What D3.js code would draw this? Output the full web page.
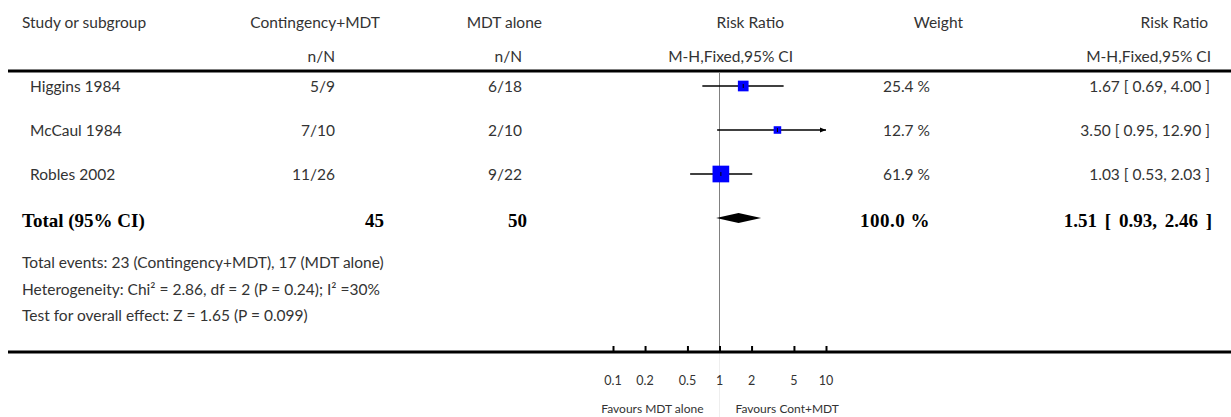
<!DOCTYPE html>
<html><head><meta charset="utf-8">
<script src="https://cdn.jsdelivr.net/npm/d3@7/dist/d3.min.js"></script>
<style>
body{margin:0;background:#fff;}
svg{display:block;}
.t{font-family:Lato,"Open Sans",sans-serif;font-size:15.5px;fill:#333;}
.b{font-family:"Liberation Serif","Times New Roman",serif;font-weight:bold;font-size:19px;fill:#000;}
</style></head>
<body>
<svg id="c" width="1231" height="417"></svg>
<script>
const studies = ["Higgins 1984", "McCaul 1984", "Robles 2002"];
const treatEvents = ["5/9", "7/10", "11/26"];
const ctrlEvents = ["6/18", "2/10", "9/22"];
const rr = [1.67, 3.50, 1.03];
const rrLow = [0.69, 0.95, 0.53];
const rrHigh = [4.00, 12.90, 2.03];
const weights = [25.4, 12.7, 61.9];
const totalLabel = "Total (95% CI)";
const totalN = ["45", "50"];
const totalWeight = 100.0;
const totalRR = [1.51, 0.93, 2.46];
const footnotes = [
  "Total events: 23 (Contingency+MDT), 17 (MDT alone)",
  "Heterogeneity: Chi\u00B2 = 2.86, df = 2 (P = 0.24); I\u00B2 =30%",
  "Test for overall effect: Z = 1.65 (P = 0.099)"
];
const tickValues = [0.1, 0.2, 0.5, 1, 2, 5, 10];
const tickLabels = ["0.1", "0.2", "0.5", "1", "2", "5", "10"];
const favours = ["Favours MDT alone", "Favours Cont+MDT"];

const svg = d3.select("#c");
const x = d3.scaleLog().domain([0.1, 10]).range([613, 826]);
const y = d3.scalePoint().domain(studies).range([86, 174]);
const f2 = d3.format(".2f");
const ciText = (m, l, h) => `${f2(m)} [ ${f2(l)}, ${f2(h)} ]`;

function txt(xp, yp, s, anchor, cls) {
  return svg.append("text").attr("class", cls || "t").attr("x", xp).attr("y", yp)
    .attr("text-anchor", anchor || "start").attr("dominant-baseline", "central").text(s);
}

// headers
txt(22, 22, "Study or subgroup");
txt(380, 22, "Contingency+MDT", "end");
txt(335, 56, "n/N", "end");
txt(542, 22, "MDT alone", "end");
txt(522, 56, "n/N", "end");
txt(784, 22, "Risk Ratio", "end");
txt(793, 56, "M-H,Fixed,95% CI", "end");
txt(963, 22, "Weight", "end");
txt(1208, 22, "Risk Ratio", "end");
txt(1211, 56, "M-H,Fixed,95% CI", "end");

// header rule
svg.append("line").attr("x1", 8).attr("x2", 1231).attr("y1", 71).attr("y2", 71)
  .attr("stroke", "#000").attr("stroke-width", 3);

// reference line at 1
svg.append("line").attr("x1", x(1)).attr("x2", x(1)).attr("y1", 72).attr("y2", 352)
  .attr("stroke", "#808080").attr("stroke-width", 1);
svg.append("line").attr("x1", x(1)).attr("x2", x(1)).attr("y1", 352).attr("y2", 417)
  .attr("stroke", "#eeeeee").attr("stroke-width", 1);

// study rows
studies.forEach((s, i) => {
  const yy = y(s);
  txt(30, yy, s);
  txt(335, yy, treatEvents[i], "end");
  txt(522, yy, ctrlEvents[i], "end");
  txt(930, yy, weights[i].toFixed(1) + " %", "end");
  txt(1210, yy, ciText(rr[i], rrLow[i], rrHigh[i]), "end");
  const lo = Math.max(rrLow[i], 0.1), hi = Math.min(rrHigh[i], 10);
  svg.append("line").attr("x1", x(lo)).attr("x2", x(hi)).attr("y1", yy).attr("y2", yy)
    .attr("stroke", "#000").attr("stroke-width", 1.3);
  if (rrHigh[i] > 10) {
    const xe = x(10);
    svg.append("path").attr("d", `M${xe - 6},${yy - 2.5}L${xe},${yy}L${xe - 6},${yy + 2.5}Z`).attr("fill", "#000");
  }
  const side = 2.12 * Math.sqrt(weights[i]);
  svg.append("rect").attr("x", x(rr[i]) - side / 2).attr("y", yy - side / 2)
    .attr("width", side).attr("height", side).attr("fill", "#0000ff");
  svg.append("line").attr("x1", x(rr[i])).attr("x2", x(rr[i])).attr("y1", yy - 2).attr("y2", yy + 2)
    .attr("stroke", "#000").attr("stroke-width", 1);
});

// total row
const ty = 220;
txt(22, ty, totalLabel, "start", "b");
txt(384, ty, totalN[0], "end", "b");
txt(527, ty, totalN[1], "end", "b");
txt(930, ty, totalWeight.toFixed(1) + " %", "end", "b").style("letter-spacing", "0.5px");
txt(1212, ty, ciText(totalRR[0], totalRR[1], totalRR[2]), "end", "b").style("word-spacing", "3px");
svg.append("path")
  .attr("d", `M${x(totalRR[1])},${ty - 2}L${x(totalRR[0])},${ty - 7}L${x(totalRR[2])},${ty - 2}L${x(totalRR[0])},${ty + 3}Z`)
  .attr("fill", "#000");

// footnotes
const fy = [262, 289, 315];
footnotes.forEach((s, i) => txt(22, fy[i], s));

// axis
const ay = 352;
svg.append("line").attr("x1", 8).attr("x2", 1231).attr("y1", ay).attr("y2", ay)
  .attr("stroke", "#000").attr("stroke-width", 3);
const axis = d3.axisTop(x).tickValues(tickValues).tickSize(6).tickFormat("");
const ag = svg.append("g").attr("transform", `translate(0,${ay})`).call(axis);
ag.select(".domain").remove();
ag.selectAll(".tick line").attr("stroke", "#000").attr("stroke-width", 2);
tickValues.forEach((v, i) => {
  svg.append("text").attr("class", "t").attr("x", x(v)).attr("y", 380)
    .attr("text-anchor", "middle").attr("dominant-baseline", "central")
    .style("font-size", "12.5px").text(tickLabels[i]);
});
txt(x(1) - 16, 408, favours[0], "end").style("font-size", "12px");
txt(x(1) + 16, 408, favours[1], "start").style("font-size", "12px");
</script>
</body></html>
